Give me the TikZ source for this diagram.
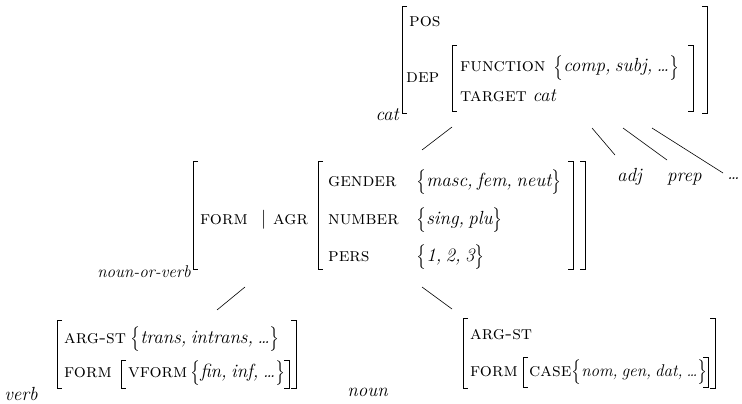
\documentclass[tikz,border=0pt]{standalone}
\usepackage{amsmath}
\usepackage{fontspec}
\newcommand\bracketL[3]{\draw[brk] (#1+5,#2) -- (#1,#2) -- (#1,#3) -- (#1+5,#3);}
\newcommand\bracketR[3]{\draw[brk] (#1-5,#2) -- (#1,#2) -- (#1,#3) -- (#1-5,#3);}
\newcommand\lbrc{\raisebox{-1.2pt}{\scalebox{1}[1.2]{$\bigl\{$}}}
\newcommand\rbrc{\raisebox{-1.2pt}{\scalebox{1}[1.2]{$\bigr\}$}}}
\newcommand\vset[1]{\lbrc{\itshape\spaceskip=0.22em plus 0.05em #1}\rbrc}
\tikzset{
  t/.style={anchor=base west, inner sep=0pt, font=\fontsize{19}{23}\selectfont},
  ti/.style={anchor=base west, inner sep=0pt, font=\fontsize{19}{23}\selectfont\itshape},
  lab/.style={anchor=base east, inner sep=0pt, font=\fontsize{19}{23}\selectfont\itshape},
  brk/.style={line width=1pt},
  edge/.style={line width=0.6pt}
}
\begin{document}
\begin{tikzpicture}[x=1pt,y=-1pt]
\useasboundingbox (0,0) rectangle (742,404);
% ---- top matrix: cat
\bracketL{402}{7}{113}
\bracketR{707}{7}{113}
\bracketL{452}{46}{111}
\bracketR{693}{46}{111}
\node[t] (pos) at (409,27) {\textsc{pos}};
\node[t] (dep) at (406,83) {\textsc{dep}};
\node[t] (fn) at (460,72) {\textsc{function}};
\node[t] (fnv) at (553,72) {\vset{comp, subj, \dots}};
\node[t] (tg) at (460,101) {\textsc{target} \textit{cat}};
\node[lab] (cat) at (399,121) {cat};
% ---- daughters of cat
\node[ti] (adj) at (617,181) {adj};
\node[ti] (prep) at (667,181) {prep};
\node[ti] (more) at (727,179) {\dots};
% ---- middle matrix: noun-or-verb
\bracketL{193}{161}{269}
\bracketR{585}{161}{269}
\bracketL{318}{161}{269}
\bracketR{573}{161}{269}
\node[t] (form) at (200,224) {\textsc{form}};
\node[t] (bar) at (261,224) {|};
\node[t] (agr) at (273,224) {\textsc{agr}};
\node[t] (gen) at (328,186) {\textsc{gender}};
\node[t] (num) at (328,224) {\textsc{number}};
\node[t] (pers) at (328,261) {\textsc{pers}};
\node[t] (genv) at (416,186) {\vset{masc, fem, neut}};
\node[t] (numv) at (416,224) {\vset{sing, plu}};
\node[t] (persv) at (416,261) {\vset{1, 2, 3}};
\node[lab,font=\fontsize{17}{21}\selectfont\itshape] (nov) at (191,277) {noun-or-verb};
% ---- verb
\bracketL{57}{320}{388}
\bracketR{296}{320}{388}
\bracketL{121}{360}{388}
\bracketR{289}{360}{388}
\node[t] (vas) at (64,343) {\textsc{arg-st}};
\node[t] (vasv) at (130,343) {\vset{trans, intrans, \dots}};
\node[t] (vf) at (64,377) {\textsc{form}};
\node[t] (vvf) at (128,377) {\textsc{vform}};
\node[t] (vvfv) at (190,377) {\vset{fin, inf, \dots}};
\node[lab] (verb) at (38,400) {verb};
% ---- noun
\bracketL{463}{318}{388}
\bracketR{715}{318}{388}
\bracketL{523}{357}{387}
\bracketR{708}{357}{387}
\node[t] (nas) at (470,339) {\textsc{arg-st}};
\node[t] (nf) at (470,376) {\textsc{form}};
\node[t] (ncase) at (529,376) {\textsc{case}};
\node[t,font=\fontsize{17}{21}\selectfont] (ncasev) at (571,376) {\vset{nom, gen, dat, \dots}};
\node[lab] (noun) at (388,396) {noun};
% ---- connectors
\coordinate (c1) at (452,127); \coordinate (c1e) at (422,150);
\coordinate (c2) at (592,128); \coordinate (c2e) at (615,155);
\coordinate (c3) at (623,128); \coordinate (c3e) at (667,160);
\coordinate (c4) at (652,128); \coordinate (c4e) at (723,173);
\coordinate (m1) at (245,287); \coordinate (m1e) at (217,310);
\coordinate (m2) at (422,287); \coordinate (m2e) at (452,309);
\draw[edge] (c1) -- (c1e);
\draw[edge] (c2) -- (c2e);
\draw[edge] (c3) -- (c3e);
\draw[edge] (c4) -- (c4e);
\draw[edge] (m1) -- (m1e);
\draw[edge] (m2) -- (m2e);
\end{tikzpicture}
\end{document}
